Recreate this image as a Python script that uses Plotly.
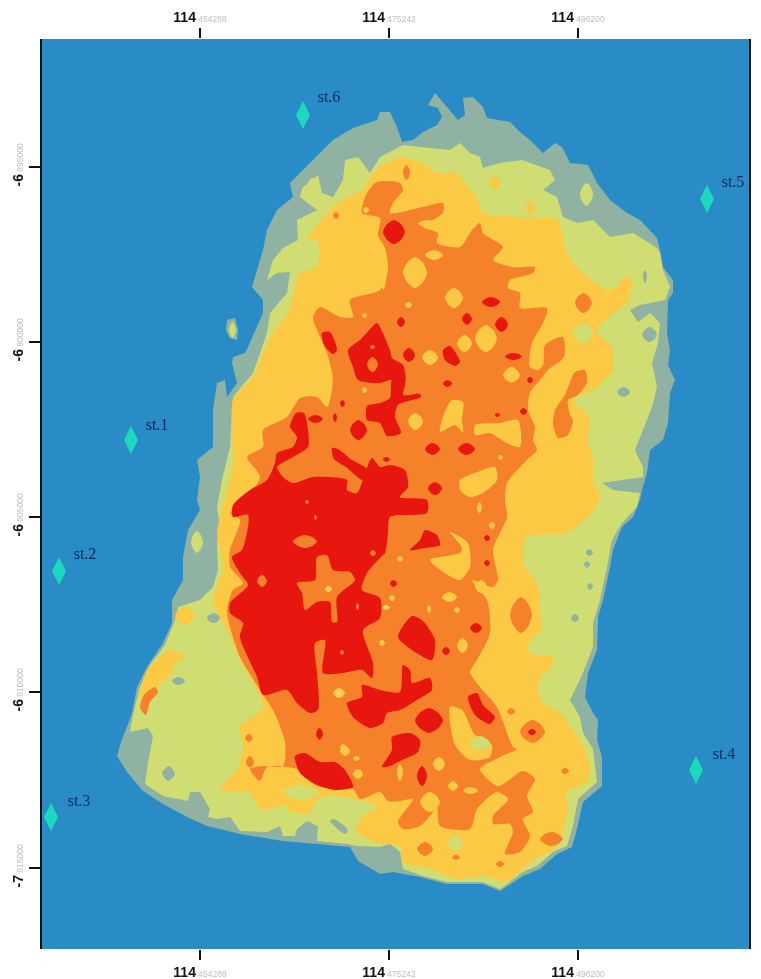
import plotly.graph_objects as go

# map grid units (1 unit on each axis)
X_RANGE = [42, 749]
Y_RANGE = [949, 39]
x_ticks = [200, 389, 578]
y_ticks = [167, 342, 517, 692, 868]
top_minor = ["454288", "475242", "496200"]
bottom_minor = ["454288", "475242", "496200"]
y_major = ["-6", "-6", "-6", "-6", "-7"]
y_minor = ["895000", "900000", "905000", "910000", "915000"]

station_names = ["st.1", "st.2", "st.3", "st.4", "st.5", "st.6"]
station_x = [131, 59, 51, 696, 707, 303]
station_y = [440, 571, 817, 770, 199, 115]
station_label_x = [157, 85, 79, 724, 733, 329]
station_label_y = [426, 555, 802, 755, 183, 98]

coast = [(380,112),(390,112),(397,127),(402,142),(413,140),(423,132),(437,125),(442,117),(438,108),(428,105),(435,93),(443,102),(452,113),(458,120),(465,115),(463,98),(473,97),(483,107),(487,118),(510,122),(520,132),(530,140),(543,153),(555,143),(562,147),(570,163),(588,165),(597,183),(610,200),(627,213),(640,220),(657,238),(660,250),(663,267),(673,280),(673,293),(668,300),(667,333),(670,350),(668,365),(675,380),(670,393),(668,423),(663,440),(650,450),(648,463),(647,473),(642,490),(640,500),(633,517),(622,527),(613,550),(610,567),(603,600),(598,617),(597,650),(588,673),(585,697),(593,713),(598,720),(597,740),(602,757),(602,786),(583,802),(577,829),(572,847),(557,854),(540,869),(523,876),(500,891),(483,884),(447,884),(420,877),(393,872),(380,874),(358,861),(350,847),(317,844),(283,841),(240,834),(207,826),(187,817),(163,804),(143,791),(127,772),(117,756),(122,739),(127,727),(132,713),(137,687),(147,667),(163,643),(172,623),(172,600),(183,580),(183,557),(188,530),(200,510),(197,500),(200,477),(197,460),(213,447),(213,410),(217,383),(225,380),(227,397),(237,383),(232,363),(233,357),(245,353),(248,347),(263,313),(263,300),(252,287),(263,250),(267,230),(277,210),(293,197),(290,183),(310,163),(333,140),(353,128),(377,120)]
gray_islet = [(227,320),(235,318),(238,330),(237,340),(230,338),(226,330)]

green_main = [(302,188),(318,175),(322,193),(333,197),(343,180),(345,160),(358,157),(370,173),(380,157),(403,145),(430,148),(450,150),(460,143),(470,153),(480,157),(483,168),(500,163),(522,160),(550,170),(555,180),(543,190),(557,197),(563,217),(577,223),(593,220),(610,237),(633,233),(657,248),(660,253),(663,270),(670,287),(665,300),(640,305),(630,310),(638,322),(650,313),(660,323),(658,343),(652,363),(657,387),(652,407),(643,430),(635,450),(643,467),(643,477),(602,483),(613,490),(640,493),(637,507),(622,523),(612,540),(607,567),(600,600),(593,623),(593,647),(583,673),(570,700),(580,717),(583,733),(593,749),(597,782),(578,799),(573,826),(567,846),(553,852),(537,866),(523,872),(500,889),(483,882),(447,882),(423,876),(403,869),(400,852),(390,844),(380,847),(357,846),(347,844),(317,841),(318,826),(307,821),(297,829),(295,836),(283,836),(280,826),(273,829),(267,832),(240,831),(230,817),(217,819),(208,817),(210,809),(200,792),(190,792),(188,801),(163,796),(145,784),(148,762),(153,736),(148,728),(130,732),(133,715),(140,687),(150,665),(165,645),(175,620),(178,607),(200,600),(213,587),(218,570),(217,543),(220,527),(217,507),(222,480),(230,447),(233,397),(253,373),(267,333),(270,313),(287,293),(290,272),(277,273),(267,280),(273,260),(283,248),(298,240),(297,220),(317,210),(300,197)]
green_spots_in_gray = [(191,531,203,553),(580,183,593,206),(229,322,236,338),(307,178,318,193)]
gray_spots = [(207,613,220,623),(172,677,185,685),(617,387,630,397),(643,270,647,283),(642,327,657,342),(586,549,593,556),(584,561,590,568),(587,583,593,590),(571,614,579,622)]
gray_polys = [[(162,773),(169,766),(175,774),(168,781)],[(330,821),(334,819),(348,830),(345,834)]]

yellow_main = [(333,207),(347,197),(363,190),(370,177),(380,167),(400,157),(423,163),(437,173),(457,173),(467,187),(477,197),(483,213),(520,217),(557,220),(563,237),(565,250),(580,270),(607,290),(628,283),(628,300),(597,330),(613,350),(613,370),(593,390),(573,400),(590,418),(587,440),(593,457),(593,477),(600,500),(587,517),(567,533),(527,537),(523,563),(537,583),(540,610),(540,633),(530,640),(530,653),(553,657),(550,670),(540,677),(540,700),(560,713),(583,746),(590,766),(587,782),(567,792),(567,812),(557,846),(530,862),(507,881),(483,876),(457,879),(430,869),(403,862),(400,846),(380,844),(357,832),(360,819),(377,806),(353,799),(333,796),(317,799),(313,806),(290,812),(287,806),(260,809),(250,792),(230,792),(220,789),(237,769),(243,746),(240,727),(263,707),(240,660),(227,630),(213,603),(217,587),(223,567),(217,533),(220,517),(233,463),(233,400),(253,377),(270,337),(287,313),(293,297),(300,273),(317,267),(317,240),(307,240)]
yellow_patches = [(490,175,500,190),(525,200,535,215),(620,277,633,293),(175,607,195,625),(288,806,314,814),(360,812,380,840),(180,650,184,660)]
yellow_slant = [[(147,670),(170,650),(180,655),(165,680),(140,700)]]
green_patches = [(573,323,593,343),(447,836,463,851),(527,640,553,655),(283,785,320,800)]

orange_main = [(362,213),(367,193),(377,182),(400,183),(403,190),(393,203),(390,213),(423,207),(443,203),(443,213),(423,227),(438,233),(437,243),(460,247),(472,230),(480,223),(483,233),(503,247),(493,260),(513,267),(535,267),(533,273),(510,280),(508,288),(520,293),(520,308),(547,308),(543,323),(532,343),(530,367),(543,373),(530,393),(528,410),(535,427),(533,440),(537,450),(527,460),(507,483),(505,500),(507,517),(493,550),(498,580),(493,587),(472,580),(487,600),(490,633),(477,660),(470,672),(480,687),(497,707),(513,747),(517,749),(500,757),(480,769),(498,786),(523,771),(535,779),(527,796),(533,812),(523,819),(530,836),(520,852),(505,854),(513,832),(510,824),(493,824),(493,816),(508,799),(497,792),(477,809),(470,829),(440,826),(437,806),(433,812),(420,826),(403,829),(398,822),(413,799),(400,801),(388,801),(380,792),(360,799),(353,789),(317,786),(297,769),(267,767),(260,781),(250,769),(263,766),(283,766),(285,742),(273,710),(260,690),(240,657),(230,627),(227,610),(233,590),(243,583),(230,567),(230,550),(240,520),(230,513),(242,503),(260,477),(247,457),(263,447),(263,430),(287,417),(300,398),(317,397),(327,407),(333,380),(327,353),(313,317),(320,307),(340,317),(353,317),(350,300),(380,290),(388,270),(385,248),(378,235),(380,218)]
orange_spots = [(403,165,410,180),(575,293,592,313),(510,597,532,633),(417,842,433,856),(540,832,563,846),(561,768,569,774),(452,855,460,860),(496,861,504,867),(507,708,515,715),(245,734,253,742),(246,756,254,768),(520,720,545,743),(333,212,339,219)]
orange_polys = [[(563,337),(564,357),(548,370),(535,385),(528,380),(543,365),(545,345)],[(575,372),(585,370),(587,382),(578,395),(568,400),(570,415),(573,420),(568,435),(558,438),(553,425),(555,410),(565,395)],[(140,708),(144,695),(155,687),(158,692),(150,702),(146,715)]]

yellow_holes = [(403,257,427,288),(425,250,443,260),(445,288,463,308),(405,302,412,308),(475,325,497,352),(457,335,472,352),(422,350,438,365),(503,367,520,383),(408,413,423,430),(498,455,503,460),(475,580,487,593),(442,592,457,602),(477,502,482,513),(489,522,495,529),(397,556,403,562),(389,595,395,601),(427,605,431,613),(454,607,460,613),(379,640,385,646),(457,638,468,653),(397,764,403,781),(433,757,445,771),(448,781,458,791),(463,787,478,794),(420,792,440,812),(340,746,350,756),(353,756,360,761),(353,769,363,779),(333,688,345,698),(340,744,346,750),(418,220,438,227),(380,250,387,290),(362,313,367,318),(362,387,367,393),(363,207,369,213)]
yellow_polys = [[(440,432),(444,414),(452,400),(463,402),(462,420),(463,432),(455,425)],[(475,425),(500,423),(518,420),(520,447),(505,442),(490,433),(475,435)],[(460,480),(475,473),(495,467),(497,480),(483,493),(470,497),(460,490)],[(450,532),(468,543),(470,567),(460,580),(448,575),(430,560),(460,553),(462,548)],[(450,707),(462,710),(475,735),(492,745),(490,757),(470,760),(455,745)]]
green_holes = [(470,736,490,750)]

red_main = [(233,505),(250,490),(267,480),(275,463),(277,453),(293,447),(297,437),(290,427),(296,413),(304,413),(308,430),(308,447),(293,457),(277,467),(283,477),(293,483),(313,477),(347,480),(347,490),(357,493),(366,470),(372,458),(380,467),(390,465),(405,470),(408,487),(400,497),(427,500),(427,513),(390,517),(388,533),(385,553),(380,558),(367,573),(362,590),(380,598),(380,618),(363,630),(373,663),(372,678),(362,670),(343,673),(323,673),(325,640),(315,643),(317,673),(318,710),(310,713),(297,703),(287,690),(263,695),(257,677),(240,637),(243,623),(230,613),(230,603),(248,585),(240,573),(232,557),(242,550),(248,515),(233,517)]
red_strip = [(332,448),(338,449),(352,460),(366,468),(370,478),(362,480),(346,467),(334,459)]
red_upper = [(348,350),(360,340),(377,323),(380,327),(390,350),(392,358),(403,365),(405,383),(390,380),(380,383),(358,380),(353,367)]
red_second = [(392,380),(405,383),(403,395),(420,394),(421,397),(398,405),(395,417),(401,433),(387,436),(380,423),(367,420),(367,406),(380,403),(390,398)]
red_lower = [(362,685),(380,690),(400,692),(403,665),(410,670),(412,683),(430,678),(432,690),(417,700),(400,710),(387,713),(383,723),(370,728),(353,717),(347,703),(362,697)]
red_south = [(295,756),(305,753),(320,762),(335,762),(345,770),(353,787),(335,790),(315,784),(300,773)]
red_tail = [(392,737),(410,733),(420,740),(418,752),(402,760),(390,766),(382,767),(392,750)]
red_spots = [(482,297,500,307),(462,313,472,325),(495,317,508,332),(397,317,405,327),(403,348,415,362),(505,353,522,360),(443,380,452,387),(527,377,533,383),(520,408,527,415),(495,413,500,417),(425,443,440,455),(458,443,475,455),(383,457,390,462),(428,482,442,495),(308,415,323,423),(333,413,337,422),(340,400,345,407),(350,420,367,440),(484,535,490,541),(484,560,490,566),(390,580,397,587),(470,623,482,633),(442,647,450,655),(415,708,443,733),(417,766,427,786),(528,729,536,735),(316,728,323,740),(383,220,405,244)]
red_polys = [[(322,333),(330,332),(337,350),(333,354),(324,345)],[(443,350),(450,346),(460,362),(455,366),(445,360)],[(410,550),(420,540),(425,530),(437,535),(440,545),(425,548)],[(398,637),(412,616),(422,620),(435,640),(432,660),(415,652)],[(468,697),(477,693),(483,705),(495,717),(490,724),(475,715)]]
orange_in_red = [(293,535,317,548),(367,357,378,372),(257,575,267,587),(305,500,309,504),(314,515,317,520),(370,550,376,556),(356,603,359,610),(340,650,344,655),(370,345,375,349)]
orange_cross = [(297,583),(315,580),(317,557),(327,555),(333,570),(350,572),(355,580),(337,597),(337,622),(332,622),(330,602),(317,602),(305,610),(302,593)]
pale_dots = [(325,586,332,592),(335,689,344,696),(382,605,390,610)]


def ring(points):
    return [p[0] for p in points] + [points[0][0]], [p[1] for p in points] + [points[0][1]]


def blob(box):
    x0, y0, x1, y1 = box
    mx, my = (x0 + x1) / 2, (y0 + y1) / 2
    dx, dy = (x1 - x0) * 0.18, (y1 - y0) * 0.18
    return [(mx, y0), (x1 - dx, y0 + dy), (x1, my), (x1 - dx, y1 - dy), (mx, y1), (x0 + dx, y1 - dy), (x0, my), (x0 + dx, y0 + dy)]


GRAY = "#8FB2A3"
GREEN = "#CFDD72"
YELLOW = "#FCC945"
ORANGE = "#F6812B"
RED = "#E7170F"
SEA = "#2A8CC6"
PALE = "#F8D25E"

fig = go.Figure()


def layer(polys, color, shape="spline"):
    xs, ys = [], []
    for p in polys:
        x, y = ring(p)
        xs += x + [None]
        ys += y + [None]
    fig.add_trace(go.Scatter(x=xs, y=ys, mode="lines", fill="toself", fillcolor=color,
                             line=dict(width=0, color=color, shape=shape, smoothing=0.7),
                             hoverinfo="skip", showlegend=False))


layer([coast, gray_islet], GRAY, "linear")
layer([green_main], GREEN, "linear")
layer([blob(b) for b in green_spots_in_gray], GREEN)
layer([blob(b) for b in gray_spots] + gray_polys, GRAY)
layer([yellow_main], YELLOW)
layer([blob(b) for b in green_patches], GREEN)
layer([blob(b) for b in yellow_patches] + yellow_slant, YELLOW)
layer([orange_main], ORANGE)
layer([blob(b) for b in orange_spots] + orange_polys, ORANGE)
layer([blob(b) for b in yellow_holes] + yellow_polys, YELLOW)
layer([blob(b) for b in green_holes], GREEN)
layer([red_main, red_strip, red_upper, red_second, red_lower, red_south, red_tail], RED)
layer([blob(b) for b in red_spots] + red_polys, RED)
layer([blob(b) for b in orange_in_red] + [orange_cross], ORANGE)
layer([blob(b) for b in pale_dots], PALE)

fig.add_trace(go.Scatter(x=station_x, y=station_y, mode="markers",
                         marker=dict(symbol="diamond-tall", size=20, color="#1CD8BC", line=dict(width=0)),
                         hoverinfo="skip", showlegend=False))
fig.add_trace(go.Scatter(x=station_label_x, y=station_label_y, mode="text", text=station_names,
                         textposition="middle center",
                         textfont=dict(family="Liberation Serif", size=16, color="#0B2A5C"),
                         hoverinfo="skip", showlegend=False))
# carries the top axis
fig.add_trace(go.Scatter(x=x_ticks, y=[None] * 3, xaxis="x2", mode="markers", hoverinfo="skip", showlegend=False))


def tick(major, minor):
    return f'<b>{major}</b><span style="font-size:8.5px;color:#bdbdbd;font-weight:normal"> {minor}</span>'


common_x = dict(range=X_RANGE, tickmode="array", tickvals=x_ticks, ticks="outside", ticklen=10, tickwidth=2,
                tickcolor="#111111", showgrid=False, zeroline=False, showline=False, automargin=False,
                tickfont=dict(family="Liberation Sans", size=14, color="#111111"))
fig.update_layout(
    width=761, height=979, autosize=False,
    margin=dict(l=42, r=12, t=39, b=30, pad=0, autoexpand=False),
    paper_bgcolor="white", plot_bgcolor=SEA, showlegend=False,
    xaxis=dict(ticktext=[tick("114", m) for m in bottom_minor], **common_x),
    xaxis2=dict(ticktext=[tick("114", m) for m in top_minor], side="top", overlaying="x", **common_x),
    yaxis=dict(range=Y_RANGE, tickmode="array", tickvals=y_ticks, ticktext=[tick(a, b) for a, b in zip(y_major, y_minor)],
               tickangle=-90, ticks="outside", ticklen=11, tickwidth=2, tickcolor="#111111", automargin=False,
               showgrid=False, zeroline=False, showline=True, mirror=True, linecolor="#111111", linewidth=2,
               tickfont=dict(family="Liberation Sans", size=14, color="#111111")),
)
fig.write_html("out.html",
               post_script="document.body.style.margin='0';document.body.style.overflow='hidden';"
                           "document.querySelectorAll('.main-svg').forEach(s=>s.style.filter='blur(0.7px)');",
               config={"displayModeBar": False})
